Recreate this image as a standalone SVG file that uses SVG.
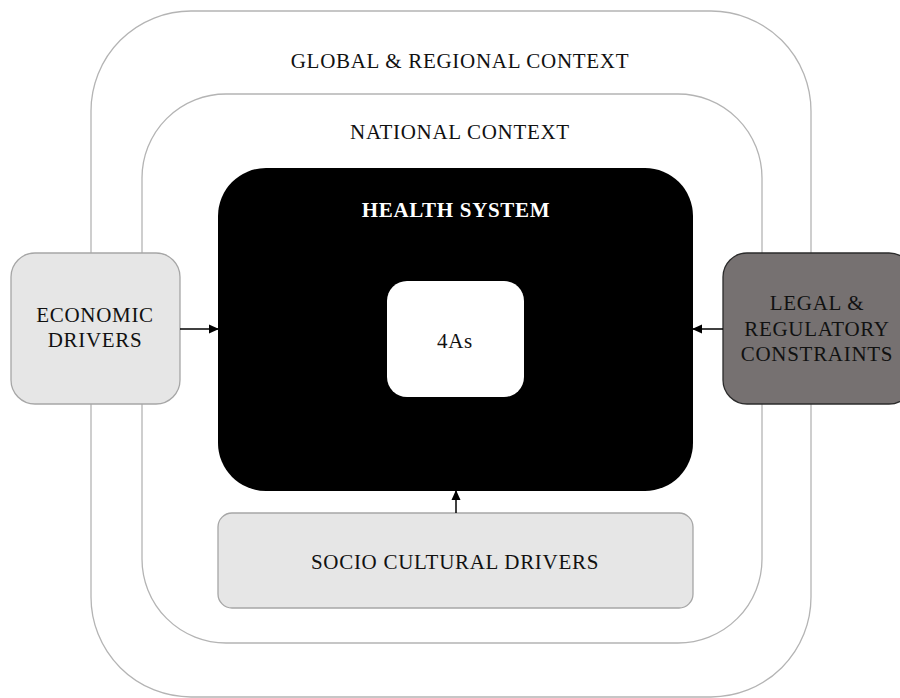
<svg xmlns="http://www.w3.org/2000/svg" width="900" height="698" viewBox="0 0 900 698">
<defs>
<style>
text{font-family:"Liberation Serif","Times New Roman",serif;font-size:21px;fill:#111;text-anchor:middle;letter-spacing:0.7px}
.ctx{fill:#fff;stroke:#b4b4b4;stroke-width:1.3}
.light{fill:#e6e6e6;stroke:#a6a6a6;stroke-width:1.3}
.conn{stroke:#000;stroke-width:1.5;fill:none;marker-end:url(#ah)}
</style>
<marker id="ah" markerWidth="10" markerHeight="10" refX="9" refY="5" orient="auto" markerUnits="userSpaceOnUse">
<path d="M0,0.5 L10,5 L0,9.5 Z" fill="#000"/>
</marker>
</defs>
<rect width="900" height="698" fill="#fff"/>
<g id="global">
<rect class="ctx" x="91" y="11" width="720" height="686" rx="100" ry="100"/>
<text x="460" y="68">GLOBAL &amp; REGIONAL CONTEXT</text>
</g>
<g id="national">
<rect class="ctx" x="142" y="94" width="620" height="549" rx="84" ry="84"/>
<text x="460" y="139">NATIONAL CONTEXT</text>
</g>
<g id="health">
<rect x="218" y="168" width="475" height="323" rx="48" ry="48" fill="#000"/>
<text x="456" y="217" style="fill:#fff;font-weight:bold">HEALTH SYSTEM</text>
</g>
<g id="fourAs">
<rect x="387" y="281" width="137" height="116" rx="20" ry="20" fill="#fff"/>
<text x="455" y="348">4As</text>
</g>
<g id="economic">
<rect class="light" x="11" y="253" width="169" height="151" rx="24" ry="24"/>
<text x="95" y="322">ECONOMIC</text>
<text x="95" y="347">DRIVERS</text>
</g>
<g id="legal">
<rect x="723" y="253" width="190" height="151" rx="24" ry="24" fill="#767171" stroke="#2b2b2b" stroke-width="1.3"/>
<text x="817" y="310">LEGAL &amp;</text>
<text x="817" y="336">REGULATORY</text>
<text x="817" y="361">CONSTRAINTS</text>
</g>
<g id="socio">
<rect class="light" x="218" y="513" width="475" height="95" rx="14" ry="14"/>
<text x="455" y="569">SOCIO CULTURAL DRIVERS</text>
</g>
<g id="connectors">
<line class="conn" x1="180" y1="329" x2="218" y2="329"/>
<line class="conn" x1="723" y1="329" x2="693" y2="329"/>
<line class="conn" x1="456" y1="513" x2="456" y2="491"/>
</g>
</svg>
